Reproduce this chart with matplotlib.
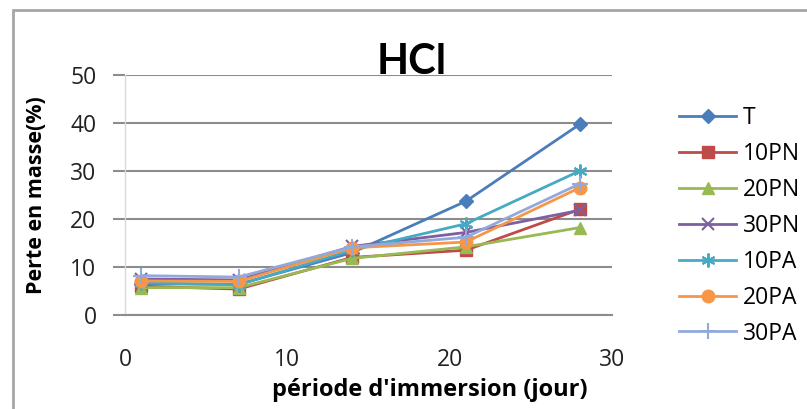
import matplotlib
matplotlib.use("Agg")
import matplotlib.pyplot as plt
from matplotlib.patches import Rectangle

plt.rcParams['font.family'] = ['Open Sans', 'DejaVu Sans']

days = [1, 7, 14, 21, 28]
series_names = ["T", "10PN", "20PN", "30PN", "10PA", "20PA", "30PA"]
T = [6.5, 6.4, 13.0, 23.7, 39.7]
PN10 = [6.0, 5.4, 12.0, 13.5, 22.0]
PN20 = [5.7, 5.7, 11.8, 14.2, 18.2]
PN30 = [7.5, 7.3, 14.3, 17.2, 21.8]
PA10 = [6.7, 6.3, 13.5, 19.0, 30.0]
PA20 = [7.1, 7.0, 14.0, 15.2, 26.5]
PA30 = [8.2, 7.9, 14.2, 16.2, 27.3]
series_values = [T, PN10, PN20, PN30, PA10, PA20, PA30]
x_ticks = [0, 10, 20, 30]
y_ticks = [0, 10, 20, 30, 40, 50]

colors = ["#4A7EBB", "#BE4B48", "#98B954", "#7D60A0", "#46AAC5", "#F79646", "#92A9D9"]
markers = ["D", "s", "^", "x", "*", "o", "+"]
msizes = [7, 9, 9, 8, 10, 9, 11]

W, H = 807, 409
fig = plt.figure(figsize=(W / 100, H / 100), dpi=100)
ax = fig.add_axes([125 / W, 1 - 315 / H, (612 - 125) / W, (315 - 75) / H])

for name, vals, c, m, ms in zip(series_names, series_values, colors, markers, msizes):
    if m == "*":
        ax.plot(days, vals, color=c, lw=2, marker=(6, 2, 0), ms=ms, mew=1.5, label=name)
    else:
        ax.plot(days, vals, color=c, lw=2, marker=m, ms=ms, mew=1.5 if m in "x+" else 1,
                mec=c, mfc=c, label=name)

ax.set_xlim(0, 30)
ax.set_ylim(0, 50)
ax.set_xticks(x_ticks)
ax.set_yticks(y_ticks)
ax.yaxis.grid(True, color="#8C8C8C", lw=1.5)
ax.set_axisbelow(True)
for s in ["top", "right"]:
    ax.spines[s].set_visible(False)
ax.spines["left"].set_color("#D9D9D9")
ax.spines["left"].set_linewidth(1)
ax.spines["bottom"].set_color("#8C8C8C")
ax.spines["bottom"].set_linewidth(1.5)
ax.tick_params(axis="y", length=8.5, width=1.5, color="#8C8C8C", pad=12, labelsize=16.5, labelcolor="#222222")
ax.tick_params(axis="x", length=0, pad=24, labelsize=16.5, labelcolor="#222222")

fig.text(412 / W, 1 - 62 / H, "HCl", ha="center", va="center", fontsize=30, fontweight="bold",
         family=["Lato", "DejaVu Sans"])
fig.text(430 / W, 1 - 390 / H, "période d'immersion (jour)", ha="center", va="center",
         fontsize=17, fontweight="bold")
fig.text(37 / W, 1 - 195 / H, "Perte en masse(%)", ha="center", va="center",
         fontsize=15.5, fontweight="bold", rotation=90)

fig.legend(loc="upper left", bbox_to_anchor=(679 / W, 1 - 106 / H), frameon=False,
           fontsize=16.5, handlelength=2.5, handletextpad=0.3, labelspacing=0.52,
           borderaxespad=0, borderpad=0)

fig.patches.append(Rectangle((13 / W, -0.1), 2, 1.1 - 10 / H, transform=fig.transFigure,
                             fill=False, ec="#A6A6A6", lw=2))

fig.savefig("out.png", dpi=100)
